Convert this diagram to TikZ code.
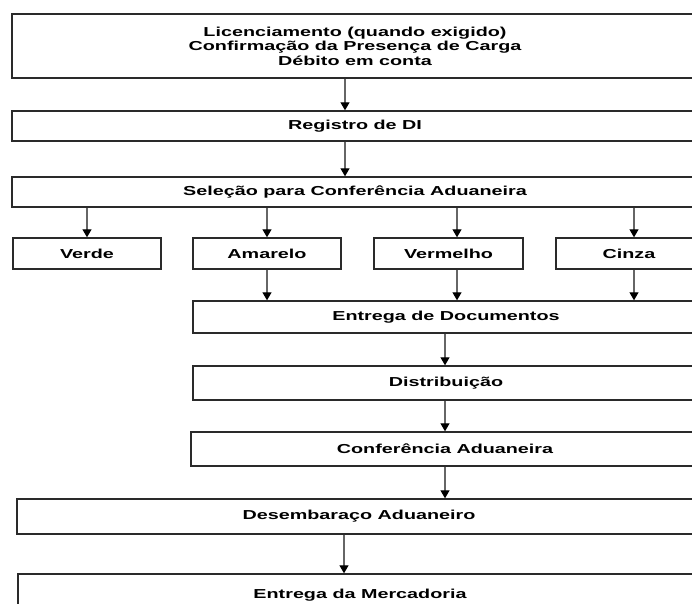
\documentclass[tikz,border=0pt]{standalone}
\usepackage{fontspec}
\setmainfont{Liberation Sans}[FakeStretch=1.52]
\usetikzlibrary{arrows.meta}
\definecolor{edge}{HTML}{2A2A2A}
\definecolor{shaft}{HTML}{666666}
\tikzset{
  box/.style={draw=edge, line width=1.4pt, fill=white, inner sep=0pt, align=center,
    font=\fontsize{13}{14.5}\selectfont\bfseries},
  arr/.style={draw=shaft, line width=1.2pt, -{Triangle[width=9pt,length=8pt,color=black]}}
}
\begin{document}
\begin{tikzpicture}[x=1pt,y=-1pt]
\useasboundingbox (0,0) rectangle (692,603);
\fill[white] (0,0) rectangle (692,603);
\clip (0,0) rectangle (692,603);
\node[box, minimum width=686, minimum height=64] (lic) at (355,46)
  {Licenciamento (quando exigido)\\Confirmação da Presença de Carga\\Débito em conta};
\node[box, minimum width=686, minimum height=30] (reg) at (355,126) {Registro de DI};
\node[box, minimum width=686, minimum height=30] (sel) at (355,192) {Seleção para Conferência Aduaneira};
\node[box, minimum width=148, minimum height=31] (verde) at (87,253.5) {Verde};
\node[box, minimum width=148, minimum height=31] (amar) at (267,253.5) {Amarelo};
\node[box, minimum width=149, minimum height=31] (verm) at (448.5,253.5) {Vermelho};
\node[box, minimum width=146, minimum height=31] (cinza) at (629,253.5) {Cinza};
\node[box, minimum width=506, minimum height=32] (ent) at (446,317) {Entrega de Documentos};
\node[box, minimum width=506, minimum height=34] (dist) at (446,383) {Distribuição};
\node[box, minimum width=508, minimum height=34] (conf) at (445,449) {Conferência Aduaneira};
\node[box, minimum width=684, minimum height=35] (des) at (359,516.5) {Desembaraço Aduaneiro};
\node[box, minimum width=684, minimum height=50, text depth=0pt] (merc) at (360,599) {\raisebox{10pt}{Entrega da Mercadoria}};
\coordinate (vtop) at ([xshift=8.5pt]verm.north);
\coordinate (vbot) at ([xshift=8.5pt]verm.south);
\coordinate (ctop) at ([xshift=5pt]cinza.north);
\coordinate (cbot) at ([xshift=5pt]cinza.south);
\coordinate (ltop) at ([xshift=-10pt]lic.south);
\coordinate (rtop) at ([xshift=-10pt]reg.south);
\coordinate (dtop) at ([xshift=-15pt]des.south);
\draw[arr] (ltop) -- (ltop |- reg.north);
\draw[arr] (rtop) -- (rtop |- sel.north);
\draw[arr] (verde.north |- sel.south) -- (verde.north);
\draw[arr] (amar.north |- sel.south) -- (amar.north);
\draw[arr] (sel.south -| vtop) -- (vtop);
\draw[arr] (ctop |- sel.south) -- (ctop);
\draw[arr] (amar.south) -- (amar.south |- ent.north);
\draw[arr] (vbot) -- (vbot |- ent.north);
\draw[arr] (cbot) -- (cbot |- ent.north);
\draw[arr] (conf.north |- ent.south) -- (conf.north |- dist.north);
\draw[arr] (conf.north |- dist.south) -- (conf.north);
\draw[arr] (conf.south) -- (conf.south |- des.north);
\draw[arr] (dtop) -- (dtop |- merc.north);
\end{tikzpicture}
\end{document}
